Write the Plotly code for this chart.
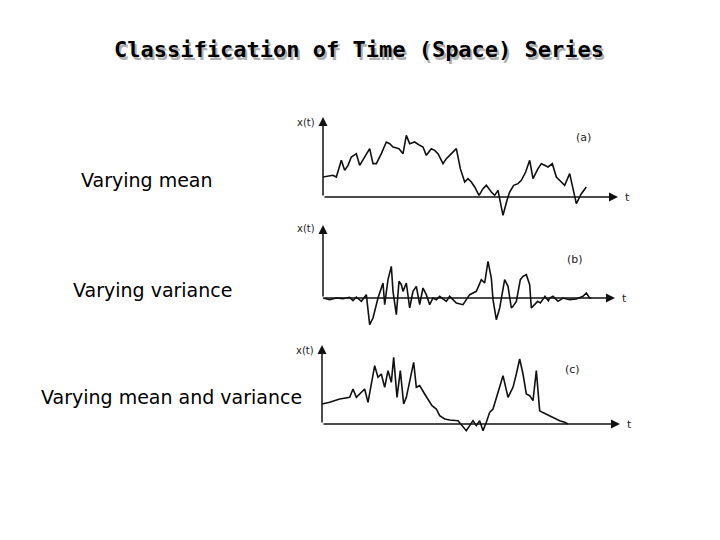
import plotly.graph_objects as go

# Series (a): varying mean
ta = [0,15,30,40,55,65,75,85,100,110,125,135,140,150,160,175,190,200,210,218,228,240,250,260,275,290,300,310,325,335,345,360,370,380,390,400,412,425,435,445,455,468,480,490,505,515,525,540,552,560,572,585,595,608,620,630,645,655,665,675,688,700,715,725,740,752,760,775,790]
va = [60,62,65,60,110,80,95,120,130,95,120,135,145,100,100,130,165,160,150,148,145,130,185,160,165,155,150,125,145,140,130,100,115,125,135,145,85,45,55,45,30,5,25,35,15,5,20,-55,-10,15,35,40,50,75,110,55,85,100,95,90,100,60,45,35,70,20,-20,10,30]

# Series (b): varying variance
tb = [0,20,40,60,80,90,100,115,130,140,150,165,180,185,195,205,210,220,228,235,240,250,260,270,280,290,300,310,320,330,340,350,370,380,400,420,440,460,475,485,495,505,510,520,530,545,555,565,570,580,592,600,610,620,625,635,644,652,658,666,676,680,690,705,720,740,760,780,790,800,805]
vb = [0,-5,0,-2,2,-8,3,-10,10,-80,-60,0,45,-20,55,95,20,-50,50,40,20,45,-30,20,35,-20,30,10,-20,0,-5,5,-10,5,-15,-20,10,20,55,45,110,60,-5,-65,-30,55,35,-30,-25,-10,55,65,70,40,-30,-20,-10,-15,-5,5,-8,0,5,-10,0,-5,-3,5,15,0,0]

# Series (c): varying mean and variance
tc = [0,23,53,83,93,103,128,138,158,168,178,188,198,208,215,225,235,245,253,265,275,283,293,308,318,330,343,353,368,383,408,433,453,463,473,483,493,498,503,513,523,543,558,573,583,593,603,613,623,633,643,653,661,671,683,693,713,728,738]
vc = [60,65,75,80,105,80,105,65,175,140,150,110,160,125,200,80,160,60,80,140,185,110,115,90,75,55,45,25,15,12,10,-20,10,-5,10,-20,5,20,35,45,80,145,80,110,150,195,150,90,85,70,160,40,35,30,25,20,10,5,0]

fig = go.Figure()
W, H = 720, 540
OFF = 8  # page body margin

panels = [
    ((323, 618), (117, 217), [0, 885], [-60, 240], ta, va, "(a)", (780, 180), 240, 197, 122),
    ((323, 615), (225, 330), [0, 876], [-96, 219], tb, vb, "(b)", (755, 115), 219, 298, 228),
    ((322, 620), (345, 440), [0, 894], [-48, 237], tc, vc, "(c)", (750, 165), 237, 424, 350),
]

def px(x):
    return (x - OFF) / W

def py(y):
    return 1 - (y - OFF) / H

annotations = []
for i, (xd, yd, xr, yr, t, v, lab, lp, top, base, lty) in enumerate(panels, start=1):
    xa = "xaxis" if i == 1 else f"xaxis{i}"
    ya = "yaxis" if i == 1 else f"yaxis{i}"
    xref = "x" if i == 1 else f"x{i}"
    yref = "y" if i == 1 else f"y{i}"
    fig.add_trace(go.Scatter(x=t, y=v, mode="lines", line=dict(color="#111", width=1.6),
                             xaxis=xref, yaxis=yref, showlegend=False, hoverinfo="skip"))
    fig.layout[xa] = dict(domain=[px(xd[0]), px(xd[1])], range=xr, visible=False, anchor=yref)
    fig.layout[ya] = dict(domain=[py(yd[1]), py(yd[0])], range=yr, visible=False, anchor=xref)
    annotations.append(dict(x=xr[1], y=0, ax=0, ay=0, xref=xref, yref=yref, axref=xref,
                            ayref=yref, showarrow=True, arrowhead=2, arrowsize=1.2,
                            arrowwidth=1.5, arrowcolor="#111", text=""))
    annotations.append(dict(x=0, y=top, ax=0, ay=0, xref=xref, yref=yref, axref=xref,
                            ayref=yref, showarrow=True, arrowhead=2, arrowsize=1.2,
                            arrowwidth=1.5, arrowcolor="#111", text=""))
    annotations.append(dict(x=lp[0], y=lp[1], xref=xref, yref=yref, text=lab, showarrow=False,
                            xanchor="center", yanchor="middle",
                            font=dict(size=11, color="#222", family="DejaVu Sans")))
    annotations.append(dict(x=px(xd[0] - 6), y=py(lty), xref="paper", yref="paper", text="x(t)",
                            showarrow=False, xanchor="right", yanchor="middle",
                            font=dict(size=10, color="#222", family="DejaVu Sans")))
    annotations.append(dict(x=px(xd[1] + 5), y=py(base), xref="paper", yref="paper", text="t",
                            showarrow=False, xanchor="left", yanchor="middle",
                            font=dict(size=11, color="#222", family="DejaVu Sans")))

title = "Classification of Time (Space) Series"
annotations.append(dict(x=px(361), y=py(52), xref="paper", yref="paper", text=f"<b>{title}</b>",
                        showarrow=False, xanchor="center", yanchor="middle",
                        font=dict(size=22, color="#b0b0b0", family="DejaVu Sans Mono")))
annotations.append(dict(x=px(359), y=py(50), xref="paper", yref="paper", text=f"<b>{title}</b>",
                        showarrow=False, xanchor="center", yanchor="middle",
                        font=dict(size=22, color="#000", family="DejaVu Sans Mono")))

for txt, cx, cy in [("Varying mean", 147, 180), ("Varying variance", 152, 290),
                    ("Varying mean and variance", 171, 397)]:
    annotations.append(dict(x=px(cx), y=py(cy), xref="paper", yref="paper", text=txt,
                            showarrow=False, xanchor="center", yanchor="middle",
                            font=dict(size=19, color="#000", family="DejaVu Sans")))

fig.update_layout(width=W, height=H, margin=dict(l=0, r=0, t=0, b=0),
                  paper_bgcolor="white", plot_bgcolor="white", annotations=annotations)
fig.write_html("out.html")
